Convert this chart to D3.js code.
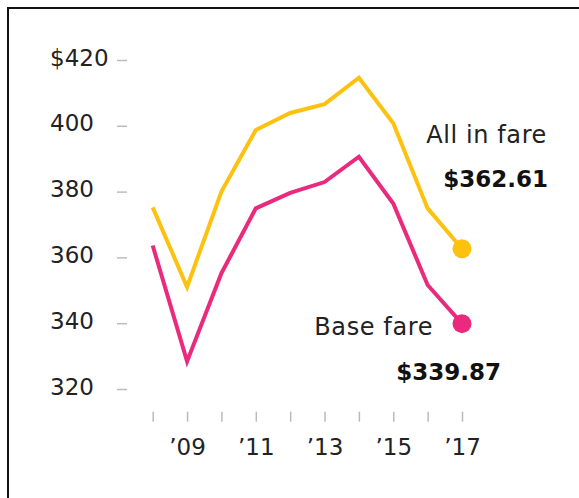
<!DOCTYPE html>
<html>
<head>
<meta charset="utf-8">
<script src="https://cdn.jsdelivr.net/npm/d3@7"></script>
<style>
  html, body { margin: 0; padding: 0; background: #fff; }
  svg { display: block; font-family: "DejaVu Sans", sans-serif; }
</style>
</head>
<body>
<svg id="chart" width="579" height="498"></svg>
<script>
// chart values
const years = [2008, 2009, 2010, 2011, 2012, 2013, 2014, 2015, 2016, 2017];
const allInFare = [375.2, 351, 380, 398.7, 403.9, 406.6, 414.6, 400.8, 374.9, 362.61];
const baseFare = [363.6, 328.4, 355.2, 374.9, 379.6, 382.9, 390.6, 376.4, 351.6, 339.87];
const yTicks = [320, 340, 360, 380, 400, 420];
const xLabelYears = [2009, 2011, 2013, 2015, 2017];

const colors = { all: "#fdc20f", base: "#ea2a7c", text: "#222", tick: "#bbb" };

const svg = d3.select("#chart");

// frame (top and left edge of the clipped box)
svg.append("line").attr("x1", 7).attr("x2", 579).attr("y1", 8).attr("y2", 8)
  .attr("stroke", "#111").attr("stroke-width", 2);
svg.append("line").attr("x1", 8).attr("x2", 8).attr("y1", 7).attr("y2", 498)
  .attr("stroke", "#111").attr("stroke-width", 2);

// scales
const x = d3.scaleLinear().domain([2008, 2017]).range([152.7, 462]);
const y = d3.scaleLinear().domain([320, 420]).range([389, 60]);

// Y axis: left aligned labels, short dashes at the right
const yAxis = svg.append("g")
  .attr("transform", "translate(127,0)")
  .call(d3.axisLeft(y).tickValues(yTicks).tickSize(10)
    .tickFormat((d) => (d === 420 ? "$" + d : d)));
yAxis.select(".domain").remove();
yAxis.selectAll(".tick line").attr("stroke", colors.tick).attr("stroke-width", 1.5);
yAxis.selectAll(".tick text")
  .attr("x", -77)
  .attr("dy", "0")
  .attr("y", 5)
  .attr("text-anchor", "start")
  .style("font-size", "23px")
  .style("font-family", "'DejaVu Sans', sans-serif")
  .attr("fill", colors.text);

// X axis: tick for every year, label for odd years
const xAxis = svg.append("g")
  .attr("transform", "translate(0,411.7)")
  .call(d3.axisBottom(x).tickValues(years).tickSize(10)
    .tickFormat((d) => (xLabelYears.includes(d) ? "\u2019" + String(d).slice(2) : "")));
xAxis.select(".domain").remove();
xAxis.selectAll(".tick line").attr("stroke", colors.tick).attr("stroke-width", 1.5);
xAxis.selectAll(".tick text")
  .attr("y", 43.5)
  .attr("dy", "0")
  .style("font-size", "23px")
  .style("font-family", "'DejaVu Sans', sans-serif")
  .attr("fill", colors.text);

// lines
const line = d3.line()
  .x((d) => x(d[0]))
  .y((d) => y(d[1]));

const series = [
  { key: "all", values: allInFare, color: colors.all },
  { key: "base", values: baseFare, color: colors.base },
];

series.forEach((s) => {
  const pts = years.map((yr, i) => [yr, s.values[i]]);
  svg.append("path")
    .datum(pts)
    .attr("fill", "none")
    .attr("stroke", s.color)
    .attr("stroke-width", 4)
    .attr("stroke-linejoin", "miter")
    .attr("d", line);

  const last = pts[pts.length - 1];
  svg.append("circle")
    .attr("cx", x(last[0]))
    .attr("cy", y(last[1]))
    .attr("r", 9.5)
    .attr("fill", s.color);
});

// annotations
const lastAll = allInFare[allInFare.length - 1];
const lastBase = baseFare[baseFare.length - 1];

svg.append("text")
  .attr("x", 547).attr("y", y(lastAll) - 105.5)
  .attr("text-anchor", "end")
  .style("font-size", "24px")
  .style("letter-spacing", "0.6px")
  .attr("fill", colors.text)
  .text("All in fare");

svg.append("text")
  .attr("x", 548).attr("y", y(lastAll) - 62)
  .attr("text-anchor", "end")
  .style("font-size", "23px")
  .style("font-weight", "bold")
  .attr("fill", "#111")
  .text("$" + lastAll.toFixed(2));

svg.append("text")
  .attr("x", 433).attr("y", y(lastBase) + 11.5)
  .attr("text-anchor", "end")
  .style("font-size", "24px")
  .style("letter-spacing", "0.6px")
  .attr("fill", colors.text)
  .text("Base fare");

svg.append("text")
  .attr("x", 501).attr("y", y(lastBase) + 56)
  .attr("text-anchor", "end")
  .style("font-size", "23px")
  .style("font-weight", "bold")
  .attr("fill", "#111")
  .text("$" + lastBase.toFixed(2));
</script>
</body>
</html>
